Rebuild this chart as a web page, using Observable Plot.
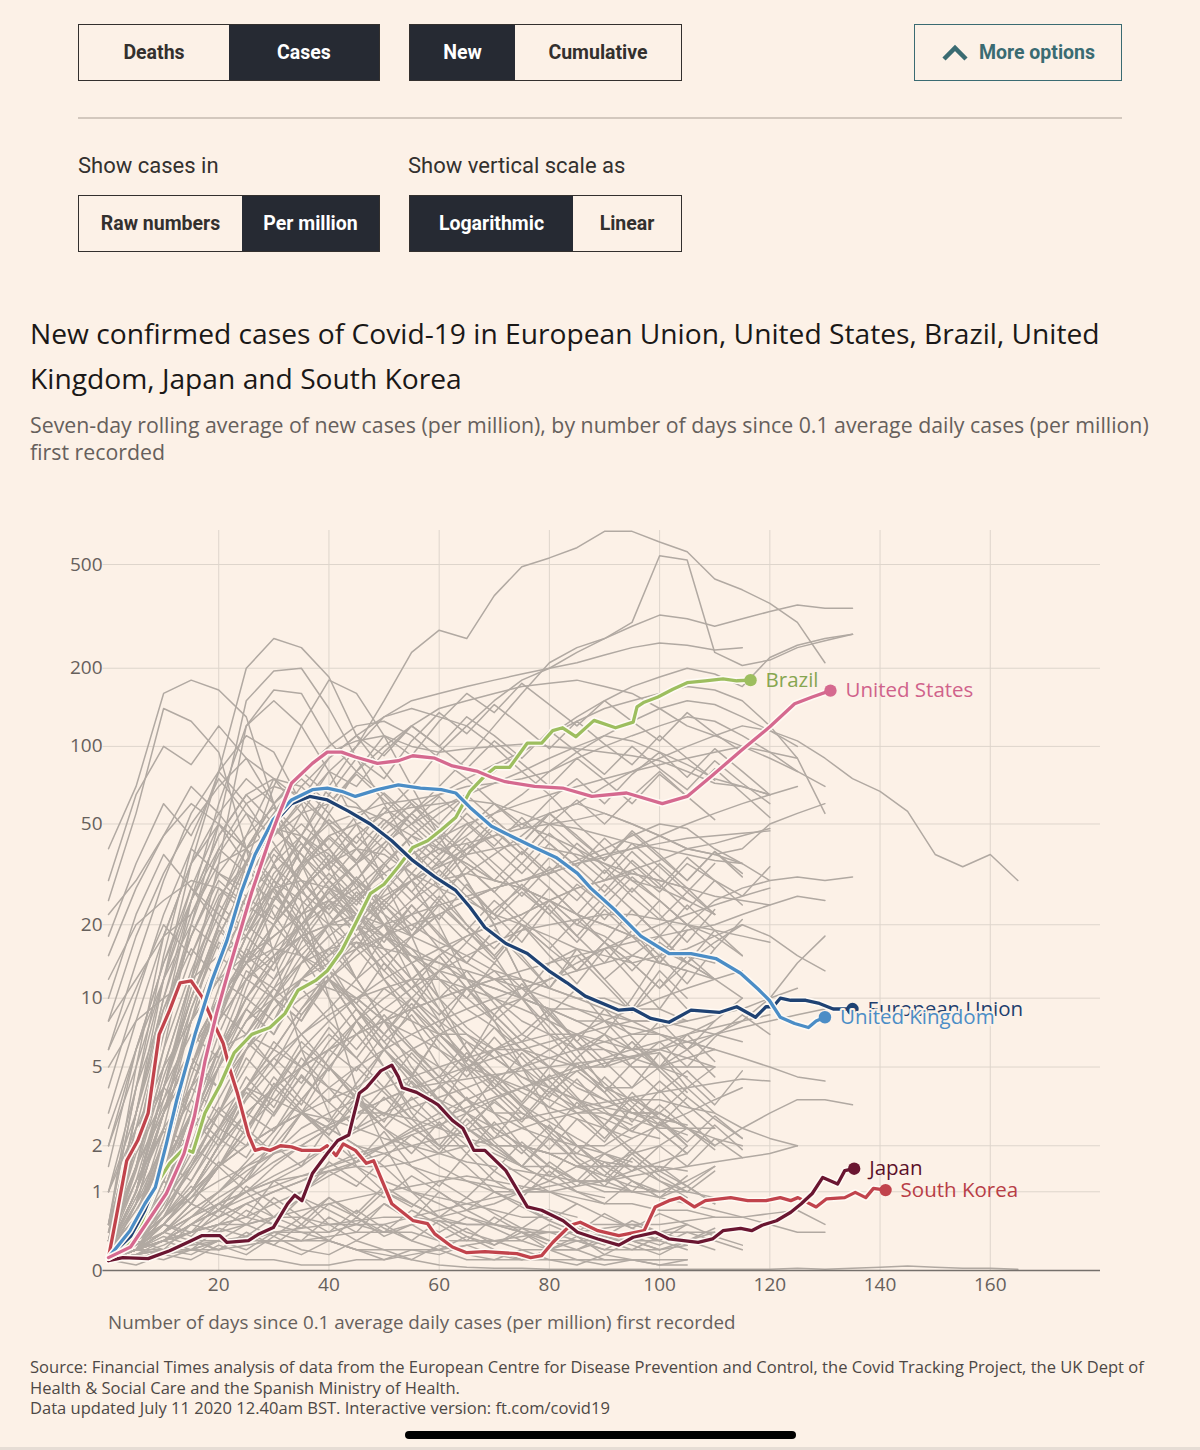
<!DOCTYPE html>
<html>
<head>
<meta charset="utf-8">
<script src="https://cdn.jsdelivr.net/npm/d3@7"></script>
<script src="https://cdn.jsdelivr.net/npm/@observablehq/plot@0.6"></script>
<style>
  html, body { margin: 0; padding: 0; }
  body { width: 1200px; height: 1450px; background: #fcf1e7; position: relative; overflow: hidden;
         font-family: "Open Sans", Roboto, sans-serif; color: #33302e; }
  .grp { position: absolute; box-sizing: border-box; border: 1.5px solid #33302e; display: flex; height: 57px; }
  .grp span { display: flex; align-items: center; justify-content: center; font-family: Roboto, sans-serif; font-weight: 700; font-size: 19.5px; color: #33302e; }
  .grp span.on { background: #262a33; color: #fff; }
  .more { position: absolute; left: 914px; top: 24px; width: 208px; height: 57px; box-sizing: border-box;
          border: 1.5px solid #3a6b72; display: flex; align-items: center; justify-content: center; gap: 10px;
          color: #3a6b72; font-family: Roboto, sans-serif; font-weight: 700; font-size: 19.5px; }
  .sep { position: absolute; left: 78px; top: 117px; width: 1044px; height: 1.5px; background: #d3c8be; }
  .lab { position: absolute; font-family: Roboto, sans-serif; font-size: 22px; color: #33302e; }
  .title { position: absolute; left: 30px; top: 311px; width: 1150px; font-size: 28.2px; line-height: 45px; color: #1a1817; white-space: nowrap; }
  .sub { position: absolute; left: 30px; top: 411px; width: 1160px; font-size: 21.3px; line-height: 27px; color: #66605c; white-space: nowrap; }
  #chart { position: absolute; left: 0; top: 490px; }
  .xlab { position: absolute; left: 108px; top: 1309px; font-size: 18.8px; color: #66605c; }
  .src { position: absolute; left: 30px; top: 1357px; width: 1160px; font-size: 16.55px; line-height: 20.5px; color: #4d4845; white-space: nowrap; }
  .bar { position: absolute; left: 405px; top: 1431px; width: 391px; height: 8px; border-radius: 4px; background: #000; }
  .edge { position: absolute; left: 0; top: 1447px; width: 1200px; height: 3px; background: #e6ddd5; }
</style>
</head>
<body>
<div class="grp" style="left:78px;top:24px;width:302px;"><span style="width:150px">Deaths</span><span class="on" style="flex:1">Cases</span></div>
<div class="grp" style="left:409px;top:24px;width:273px;"><span class="on" style="width:105px">New</span><span style="flex:1">Cumulative</span></div>
<div class="more"><svg width="28" height="18" viewBox="0 0 28 18"><polyline points="3,15 14,4 25,15" fill="none" stroke="#3a6b72" stroke-width="4.5"/></svg><span>More options</span></div>
<div class="sep"></div>
<div class="lab" style="left:78px;top:153px;">Show cases in</div>
<div class="lab" style="left:408px;top:153px;">Show vertical scale as</div>
<div class="grp" style="left:78px;top:195px;width:302px;"><span style="width:163px">Raw numbers</span><span class="on" style="flex:1">Per million</span></div>
<div class="grp" style="left:409px;top:195px;width:273px;"><span class="on" style="width:163px">Logarithmic</span><span style="flex:1">Linear</span></div>
<div class="title">New confirmed cases of Covid-19 in European Union, United States, Brazil, United<br>Kingdom, Japan and South Korea</div>
<div class="sub">Seven-day rolling average of new cases (per million), by number of days since 0.1 average daily cases (per million)<br>first recorded</div>
<div id="chart"></div>
<div class="xlab">Number of days since 0.1 average daily cases (per million) first recorded</div>
<div class="src">Source: Financial Times analysis of data from the European Centre for Disease Prevention and Control, the Covid Tracking Project, the UK Dept of<br>Health &amp; Social Care and the Spanish Ministry of Health.<br>Data updated July 11 2020 12.40am BST. Interactive version: ft.com/covid19</div>
<div class="bar"></div>
<div class="edge"></div>
<script>
const FONT = '"Open Sans", Roboto, sans-serif';

// ---- axis ticks ----
const xTicks = [20, 40, 60, 80, 100, 120, 140, 160];
const yTicks = [0, 1, 2, 5, 10, 20, 50, 100, 200, 500];

// ---- highlighted series: [day, cases per million] ----
const usData = [[0,0.12],[4,0.23],[7.2,0.55],[10.5,0.97],[13.7,1.8],[15.6,2.9],[17.5,5.3],[19.6,8.6],[22,13.5],[26,27],[29.3,44],[31,55],[33.2,72],[37,86],[39.7,95],[42.3,95],[44.8,91],[48.8,86],[52.6,88],[55.2,92],[59.2,90],[62.4,84],[67,80],[69.5,76],[72,73],[77.3,70],[82.4,69],[87.7,64],[94,66],[100.5,60],[105,64],[109.5,77],[114.7,96],[120,119],[124.5,146],[127.7,155],[131,164]];
const ukData = [[0,0.12],[3.9,0.42],[6.6,0.8],[8.5,1.08],[10.5,2.05],[12.4,3.5],[15.7,7],[18.8,11.9],[21.5,17.3],[24.1,27],[26.6,38],[29.9,52],[33.2,62],[37,68],[39.7,69],[42.3,67],[44.8,64],[48.8,68],[52.6,71],[56.6,69],[60.4,68],[63,66],[65.6,58],[69.5,49],[72,46],[77.3,40.5],[81.2,37],[85.1,32],[87.5,28],[92,22.8],[96.6,18],[101.7,15.3],[105.7,15.3],[110.2,14.6],[114.7,12.7],[117.9,10.9],[119.9,9.8],[121.9,8.3],[124.5,7.8],[127,7.5],[128.4,8.0],[130,8.3]];
const euData = [[0,0.12],[4,0.35],[6.6,0.7],[9.1,1.28],[12.4,3.2],[15,6.2],[18.3,11.3],[20.8,16.3],[24.1,26.6],[26.6,37],[29.9,50],[33.2,60],[36.5,64],[39.7,62],[43.6,56],[47.5,50],[51.4,43],[55.2,36],[59.2,31],[63,27.4],[65.6,23.5],[68.3,19.5],[72.1,16.8],[76,15.3],[79.9,13],[83.2,11.6],[86.5,10.2],[92.6,8.9],[95.2,9.0],[98.4,8.2],[101.7,7.9],[105.7,8.9],[110.8,8.7],[114,9.2],[117.4,8.3],[119.3,9.2],[120.6,9.2],[121.9,10],[123.8,9.8],[126.5,9.8],[129,9.5],[131.5,9.0],[135,9.0]];
const brazilData = [[0,0.12],[2.6,0.19],[5.9,0.51],[9.1,1.2],[11.1,1.57],[13.7,1.93],[15.3,1.83],[17.5,3.0],[20.2,4.1],[22.8,5.8],[26,7.0],[29.3,7.5],[32,8.6],[34.4,10.8],[37.7,11.9],[39.7,13],[42.3,15.7],[44.8,20.2],[47.5,26.6],[50,29],[52.6,34],[55.2,40.5],[57.9,43],[60.4,47.5],[63,53],[65.6,67],[68.3,77],[70.2,83],[72.8,83],[76,103],[78.6,103],[80.6,115],[82.4,118],[84.8,109],[88.1,126],[92,118],[95.2,124],[95.9,142],[97.2,148],[99.7,155],[102.4,166],[105,176],[108.3,179],[111.5,182],[114,179],[116.5,180]];
const japanData = [[0,0.09],[2.6,0.12],[7.2,0.11],[11.1,0.19],[15,0.30],[17,0.36],[20.2,0.36],[21.5,0.28],[25.4,0.30],[27.3,0.38],[29.9,0.46],[32.5,0.8],[33.8,0.94],[35.1,0.85],[37,1.35],[39.7,1.8],[41.6,2.14],[43.6,2.3],[45.5,3.76],[46.8,4.0],[49.4,4.8],[51.4,5.1],[52.6,4.5],[53.3,4.0],[55.9,3.8],[58.5,3.47],[59.8,3.3],[62.4,2.75],[64.3,2.5],[66.3,1.88],[68.3,1.88],[72.1,1.41],[76,0.75],[78.6,0.70],[82.5,0.55],[85.1,0.40],[88.8,0.32],[92.6,0.25],[95.2,0.34],[99.2,0.40],[101.7,0.32],[107,0.28],[109.6,0.32],[111.5,0.42],[114.7,0.45],[116.7,0.42],[118.6,0.49],[121.2,0.55],[123.8,0.67],[125.7,0.8],[127.7,0.97],[129.6,1.27],[132.3,1.14],[133.6,1.41],[135.3,1.45]];
const koreaData = [[0,0.12],[1.4,0.6],[3.3,1.63],[5.3,2.14],[7.2,3.0],[8.5,5.3],[9.2,7.0],[11.1,8.9],[13,11.6],[15,11.8],[17,10.1],[18.9,8.0],[20.8,6.4],[22.1,4.8],[23.4,3.76],[25.4,2.3],[26.6,1.88],[27.9,1.93],[29.3,1.88],[31.2,2.0],[33.2,1.97],[35.1,1.88],[38.4,1.88],[39.7,2.0],[41.3,1.75],[42.6,2.05],[44.8,1.88],[46.8,1.57],[48.1,1.63],[51.4,0.8],[55.3,0.55],[57.9,0.51],[59.2,0.38],[62.4,0.23],[65,0.17],[68.3,0.18],[74.1,0.16],[76.6,0.12],[78.6,0.14],[80.6,0.28],[83.8,0.49],[85.6,0.53],[88.8,0.42],[92.6,0.36],[97.2,0.42],[99.2,0.75],[101.7,0.85],[103.7,0.90],[106.3,0.75],[108.3,0.85],[112.9,0.90],[116,0.85],[119.3,0.85],[121.9,0.90],[123.8,0.85],[125.1,0.90],[128.4,0.75],[130.3,0.88],[133.6,0.90],[135.5,0.99],[137.4,0.9],[138.8,1.06],[141,1.03]];

const seriesNames = ["South Korea", "Japan", "Brazil", "European Union", "United Kingdom", "United States"];
const seriesColors = ["#c1434c", "#6a1631", "#9dbe5f", "#1f4273", "#4b8dc6", "#d5698f"];
const seriesLabelColors = ["#b83d46", "#5b1029", "#86a650", "#1f3f6e", "#4b8dc6", "#d0628b"];

// ---- other countries (grey), values every greyStep days from day 0 ----
const greyStep = 5;
const greySeries = [
 [0.2,1,3,6,10,18,30,45,70,100,150,230,280,260,380,490,530,580,670,670,610,560,440,400,355,300,210],
 [0.1,0.8,3,8,12,15,18,22,25,30,40,55,70,90,120,160,210,240,260,300,540,520,230,205,215,240,255,270],
 [0.1,0.5,2,5,9,14,20,28,35,45,55,70,95,120,150,180,200,230,260,290,320,310,290,310,330,350,340,340],
 [0.1,0.3,0.8,2,4,6,8,10,12,15,18,22,28,32,38,45,55,60,70,80,90,100,110,120,115,105,90,75,67,56,38,34,38,30],
 [0.1,0.4,1.5,4,8,12,16,20,24,28,35,45,55,65,80,95,110,130,150,170,185,200,190,170,220,245,260,270],
 [0.2,1,4,10,18,30,45,60,80,100,130,150,160,170,180,190,200,210,225,240,250,245,235,240],
 [40,70,160,180,165,130,60,25,10,4,2,1,0.6,0.4,0.3,0.3,0.2,0.2,0.1,0.1,0.1,0.1],
 [25,55,140,125,95,40,15,6,3,1.5,1,0.8,0.6,0.5,0.5,0.4,0.4,0.3,0.3,0.3,0.2],
 [0.3,3,12,35,80,200,260,240,185,110,80,60,45,30,20,12,8,6,7,10,15,20,25,28,30],
 [0.2,1.5,6,20,50,150,195,200,140,90,60,40,28,20,15,10,7,5,4,4,5,6,8,10],
 [0.2,1,4,12,35,120,165,160,105,80,65,50,40,35,30,28,25,20,18,15,14,13,12],
 [0.1,0.5,2,6,15,35,70,120,180,160,110,70,45,30,20,12,8,6,4,3,3,2.5,2],
 [0.1,0.6,2.5,8,20,40,60,80,95,105,110,100,95,98,100,102,100,98,95,92,88,80,72,70,65],
 [0.1,0.6,2,5,10,18,28,40,50,55,60,62,65,70,72,75,80,90,100,110,120,130,125,110,95,80],
 [0.1,0.4,1.5,5,10,15,25,40,60,80,100,120,140,150,160,170,175,180,170,160,140,120,110,100,90,80,70],
 [0.1,0.3,0.8,2,4,6,9,12,14,16,18,20,22,25,28,30,33,36,40,45,50,48,40,35,30,31,30,31],
 [0.2,1,3,6,10,14,18,22,25,22,18,15,13,12,11,10,9,8,8,7,7,6,7,8,10,14,18],
 [0.1,0.3,1,2.5,5,8,12,16,20,25,30,35,40,42,45,48,50,52,55,50,45,40,38,40,50,55,60],
 [0.1,0.5,2,5,9,14,20,28,35,40,38,32,28,25,22,20,18,16,15,14,15,16,18,20,18,15,13],
 [0.1,0.2,0.4,0.6,0.8,1,1.2,1.5,2,2.5,3,3.5,4,5,6,7,6,5,4,3.5,3,2.5,2,2.5,3,3.5,3.5,3.3],
 [0.1,0.2,0.3,0.4,0.5,0.6,0.5,0.4,0.3,0.2,0.15,0.1,0.05,0.03,0.02,0.02,0.01,0.01,0.01,0.01,0.01,0.01,0.01,0.01,0.01,0.02,0.01,0.02,0.03,0.04,0.03,0.02,0.02,0.01],
 [0.1,0.3,1,3,6,10,15,20,28,35,45,55,65,75,85,95,110,125,140,150,160,170,165,150,120,90,55],
 [0.1,0.2,0.5,1,2,4,6,9,13,18,25,30,38,45,55,65,80,95,110,125,140,150,145,130,115,100],
 [0.2,1,4,10,20,35,50,70,90,110,130,140,130,120,100,80,65,50,40,30,25,20,18,15],
 [0.1,0.5,2,6,15,30,55,80,100,120,125,110,90,75,60,50,45,40,35,30,28,25,22],
 [0.1,0.3,1,2.5,5,9,14,20,27,35,42,50,58,65,72,80,90,100,110,105,95,85,75,70,65],
 [0.1,0.2,0.6,1.5,3,6,10,15,20,26,32,38,44,50,55,60,65,70,75,80,85,90,95,100,95,90],
 [22,30,45,60,50,35,22,15,10,7,5,4,3,2.5,2,2,1.8,1.5,1.5],
 [12,20,25,30,28,24,20,15,12,10,8,6,5,4,3,3,2.5,2],
 [8,12,18,22,35,40,30,20,12,8,5,3,2,1.5,1,1,1],
 [5,8,10,12,15,18,25,35,40,30,20,12,8,5,3,2,1.5,1.2,1,1],
 [0.5,4,15,40,80,110,95,60,35,20,12,8,5,3.5,2.5,2,1.8,1.5,1.5,1.8,2,2.5],
 [0.3,2,8,25,60,120,150,120,80,50,30,18,10,6,4,3,2.5,2,2,2.5,3,4,5],
 [0.1,0.5,2,6,15,30,45,55,60,58,52,45,40,35,30,28,25,22,20,18,16,15,14],
 [0.1,0.3,1,3,8,15,25,35,45,50,55,58,60,62,60,55,50,48,45,42,40,38,36,35],
 [0.2,1,4,10,20,35,50,65,70,60,45,30,20,12,8,5,3,2,1.5,1.2,1,1.2,1.5],
 [0.1,0.2,0.6,1.5,3,5,8,12,16,20,25,30,35,40,45,50,55,60,55,50,45,40,38,35],
 [0.1,0.4,1.5,4,8,12,15,18,20,22,20,18,16,14,12,10,9,8,7,6,5,5,5],
 [0.1,0.2,0.5,1,2,3,4,5,6,8,10,12,15,18,20,22,25,28,30,32,30,28,26,25,24],
 [0.3,2,8,20,40,60,70,65,50,35,22,14,9,6,4,3,2.5,2,1.5,1.5,1.2,1],
 [0.1,0.3,1,2.5,5,8,10,12,11,10,8,7,6,5,4.5,4,3.5,3,3,2.8,2.5,2.5,2.2,2],
 [0.1,0.2,0.4,0.8,1.5,2.5,4,6,8,10,12,14,16,18,20,22,25,28,30,33,36,40,42,45,48],
 [0.2,0.8,3,8,15,22,28,30,28,25,20,16,12,10,8,6,5,4,3.5,3,3,2.5,2.5],
 [0.1,0.3,0.8,2,4,7,10,14,18,22,26,30,34,38,40,42,40,38,35,32,30,28],
 [0.1,0.2,0.3,0.5,0.8,1.2,1.8,2.5,3,3.5,4,4.5,5,5.5,6,6.5,7,7,6.5,6,6,5.5,5],
 [0.2,1,3,6,10,14,16,15,13,11,9,8,7,7,6,6,5.5,5,5,5.5,6,7,8],
 [0.1,0.3,0.6,1,1.5,2,2.5,3,3.5,4,5,6,7,8,9,10,12,14,16,18,20,22,24,26,28],
 [0.1,0.2,0.4,0.6,0.8,1,1.2,1.3,1.4,1.5,1.5,1.6,1.8,2,2.2,2.5,2.8,3,3.2,3.5,3.5,3.2,3],
 [0.3,1.5,5,12,25,40,48,45,38,30,25,20,17,15,13,12,11,10,10,9,9,8],
 [0.1,0.2,0.5,1,2,3.5,5,7,9,12,15,18,22,25,28,30,32,35,38,40,45,50,55,60,65,70],
 [0.1,0.3,0.6,1,1.5,2,2.5,3,2.5,2,1.5,1,0.8,0.6,0.5,0.4,0.3,0.3,0.2,0.2,0.2,0.3,0.4],
 [0.1,0.15,0.2,0.3,0.4,0.5,0.6,0.7,0.8,0.9,1,1.1,1.2,1.3,1.2,1.1,1,0.9,0.8,0.8,0.7,0.7,0.6],
 [0.1,0.2,0.3,0.5,0.7,1,1.5,2,2.5,3,3,2.8,2.5,2.2,2,2,1.8,1.8,1.6,1.5,1.5,1.4],
 [0.2,0.8,2,4,6,7,6,5,4,3.5,3,2.5,2,2,1.8,1.5,1.5,1.2,1.2,1,1,1,0.9],
 [0.1,0.2,0.4,0.7,1,1.5,2,3,4,5,6,7,8,9,10,11,12,13,14,15,14,13],
 [0.1,0.15,0.25,0.4,0.6,0.8,1,1.2,1.5,1.8,2,2.5,3,3.5,4,5,6,7,8,9,10,11,12,13],
 [0.1,0.4,1.2,3,6,10,14,18,20,20,18,16,14,12,11,10,9,9,8.5,8,8,8],
 [0.1,0.2,0.3,0.4,0.5,0.5,0.6,0.6,0.5,0.5,0.4,0.4,0.3,0.3,0.3,0.2,0.2,0.2,0.3,0.3,0.4,0.5],
 [0.1,0.3,0.8,1.8,3.5,6,9,12,15,18,20,22,24,26,28,30,32,35,37,40,42,44,45,46,47],
 [0.4,3,10,25,45,65,75,70,55,40,30,22,16,12,10,8,7,6,6,5,5,5.5,6],
 [0.1,0.2,0.5,1,2,4,6,9,12,16,20,25,30,32,30,28,25,22,20,18,16,14,12,10],
 [0.1,0.2,0.3,0.5,0.7,0.9,1.1,1.3,1.5,1.7,2,2.3,2.6,3,3.5,4,4.5,5,5.5,6,6.5,7,7.5,8,8.5],
 [0.1,0.15,0.2,0.25,0.3,0.35,0.4,0.45,0.5,0.55,0.6,0.6,0.55,0.5,0.5,0.45,0.4,0.4,0.35,0.3,0.3],
 [0.2,0.6,1.5,3,5,8,11,14,16,17,16,15,14,13,12,11,10,9,8,7.5,7,6.5,6],
 [0.1,0.3,0.7,1.5,2.5,4,5.5,7,8.5,10,11,12,12,11,10,9,8,7,6,5.5,5,4.5],
 [0.1,0.2,0.3,0.6,1,1.6,2.4,3.5,5,7,9,11,13,15,17,19,20,21,22,22,21,20,19,18,17],
 [0.1,0.2,0.3,0.4,0.5,0.6,0.8,1,1.3,1.6,2,2.4,2.8,3.2,3.6,4,4.4,4.8,5.2,5.6,6,6.5,7,7.5,8,8.5,9],
 [0.1,0.2,0.3,0.4,0.6,0.8,1,1.2,1.4,1.6,1.8,2,2.2,2.4,2.6,2.8,3,3.2,3.4,3.6,3.8,4,4.2,4.4,4.3],
 [0.1,0.3,0.6,0.9,1.2,1.5,1.8,2,1.8,1.5,1.2,1,0.9,0.8,0.7,0.6,0.6,0.5,0.5,0.5,0.4,0.4,0.4],
 [0.1,0.1,0.15,0.2,0.2,0.25,0.3,0.3,0.35,0.4,0.4,0.5,0.6,0.7,0.8,1,1.2,1.5,1.8,2.2,2.6,3,3.5,4],
 [0.2,0.5,1,2,3,4,3.5,3,2.5,2,1.8,1.5,1.3,1.2,1.1,1,1,1.1,1.2,1.4,1.6,1.8],
 [0.1,0.2,0.2,0.3,0.3,0.3,0.4,0.4,0.4,0.5,0.5,0.6,0.7,0.8,0.9,1,1.1,1.2,1.2,1.3,1.4,1.5,1.6,1.7,1.8,2],
 [0.1,0.15,0.2,0.2,0.15,0.1,0.1,0.05,0.05,0.1,0.1,0.15,0.2,0.25,0.3,0.35,0.4,0.4,0.45,0.5,0.5,0.55,0.6,0.6,0.65,0.7,0.5],
 [0.1,0.2,0.4,0.7,1,1.4,1.8,2.2,2.6,3,3.5,4,4.5,5,5.5,6,6.5,7,7.5,8,8,7.5,7,6.5],
 [0.1,0.3,0.6,1,1.5,2,2.5,3,2.8,2.5,2.2,2,1.8,1.6,1.5,1.4,1.3,1.2,1.1,1,0.9,0.8,0.7,0.6,0.5,0.4,0.4],
 [0.1,0.1,0.2,0.2,0.3,0.3,0.3,0.3,0.3,0.2,0.2,0.2,0.2,0.1,0.1,0.1,0.1,0.1,0.1,0.1,0.1],
 [0.1,0.2,0.4,0.8,1.5,2.5,3.5,5,6,7,8,9,10,11,12,12,11,10,9,8,7,6.5,6,5.5,5,4.5,4.3],
 [0.1,0.3,0.6,1,2,3,4,5,6,7,8,9,10,11,12,13,14,15,16,17,18,19,20,22,24,26,25],
 [0.1,0.2,0.3,0.5,0.7,1,1.3,1.6,2,2.4,2.8,3.2,3.6,4,4.5,5,5.5,6,6.5,7,7.5,8,8.5,9,10,11],
 [0.1,0.2,0.4,0.6,0.9,1.2,1.6,2,2.5,3,3.5,4,4.2,4.4,4.6,4.8,5,5.2,5.4,5.6,5.8,4,3,2.5,2.2,2],
 [0.1,0.5,1.2,0.8,1.5,2.5,1.8,3,2.2,1.6,2.4,1.5,1.1,1.8,1.2,0.9,1.4,1,0.8,1.2,0.9,1.1,0.8],
 [0.1,0.2,0.6,1.1,0.7,1.3,2,1.5,2.6,3.8,2.9,4.5,3.2,2.4,3.5,2.6,1.9,2.8,2.1,3.2,2.4,1.8],
 [0.2,1,2.5,4,3,5.5,4,6.5,5,3.5,4.8,3.2,2.5,3.6,2.4,1.8,2.6,1.7,1.3,1.9,1.4,1.1,1.5],
 [0.1,0.3,0.5,0.9,1.6,1.2,2.2,3.5,2.7,4.2,6,4.6,7,5.2,4,5.8,4.3,3.2,4.5,3.4,2.6,3.6,2.8,2.2],
 [0.3,1.8,3.5,6,9,7,11,8.5,12,9,6.5,8.5,6,4.5,6,4.2,3.2,4.4,3.1,2.4,3.3,2.5,1.9],
 [0.1,0.15,0.3,0.2,0.45,0.35,0.6,0.45,0.8,0.6,1,0.75,1.2,0.9,1.4,1.05,1.6,1.2,1.8,1.4,2,1.5,2.2,1.7],
 [0.1,0.4,0.9,1.5,2.5,4,3,5,7,5.5,8,10,7.5,11,13,10,14,16,12,15,18,14,17,20],
 [0.5,2.5,5,8,12,10,15,18,14,20,16,12,15,11,8,10,7.5,5.5,7,5,3.8,4.8,3.6],
 [0.1,0.2,0.35,0.25,0.5,0.8,0.6,1,1.4,1.1,1.7,2.3,1.8,2.6,3.4,2.7,3.8,4.8,3.8,5.2,6.5,5,6.8,8.5,7],
 [0.2,0.8,1.6,2.8,2,3.6,5.5,4.2,6.5,9,7,10,13,10,14,11,8.5,11,8,6,8,6,4.5],
 [0.1,0.3,0.2,0.5,0.4,0.7,0.5,0.9,0.7,0.5,0.8,0.6,0.4,0.6,0.45,0.3,0.5,0.35,0.25,0.4,0.3,0.2],
 [1,2.5,4,3,6,9,7,12,16,12,18,14,10,13,9.5,7,9,6.5,5,6.5,4.8,3.6],
 [0.1,0.2,0.5,1,1.8,3,2.4,4,6,4.8,7,5.5,4.2,5.8,4.4,3.3,4.6,3.5,2.6,3.6,2.8,2.1,2.9,2.2],
 [0.2,0.6,1.3,2.4,4,6.5,10,8,13,17,13,18,22,17,23,28,22,29,24,19,25,20,16,21],
 [0.1,0.25,0.5,0.4,0.8,0.6,1.2,0.9,1.6,1.2,0.9,1.3,1,0.7,1,0.75,0.55,0.8,0.6,0.45,0.65,0.5],
 [0.4,1.5,3,5,4,7,10,8,12,9.5,7,9.5,7,5.5,7.5,5.5,4,5.5,4.2,3.2,4.3,3.3,2.5],
 [0.1,0.3,0.7,1.4,2.5,2,3.8,6,4.8,8,11,9,13,17,14,19,25,20,26,33,27,35,30,26,34],
 [0.3,1.2,2.5,2,4,6.5,5,8.5,12,9.5,14,11,8.5,11,8.5,6.5,8.5,6.5,5,6.5,5,3.8],
 [0.2,2,7,15,28,22,35,45,36,50,40,32,42,34,27,35,28,22,29,23,18,24,19],
 [0.1,0.8,3,9,18,30,25,40,52,42,58,48,38,50,40,32,42,34,27,36,29,23,30,24],
 [0.3,3,10,22,38,55,45,62,50,40,52,42,34,44,35,28,37,30,24,31,25,20],
 [0.1,0.5,1.8,5,11,20,16,28,38,30,42,55,44,58,47,38,50,40,32,42,34,27,35],
 [0.2,1.5,5,12,22,18,30,25,20,27,22,18,24,19,15,20,16,13,17,14,11,14,12],
 [0.5,5,18,35,55,75,60,80,65,52,66,53,42,55,44,35,46,37,30,39,31,25],
 [0.1,0.6,2.2,6,13,24,20,33,45,36,50,62,50,65,52,42,55,44,36,46,37,30,39,32],
 [1.5,6,14,25,40,32,48,38,30,40,32,25,33,26,21,27,22,17,23,18,14,19],
 [0.1,0.4,1.4,4,9,16,13,22,30,24,34,45,36,48,60,48,62,75,60,78,95,76,98,80,65],
 [0.2,1,3.5,8,15,12,20,27,22,30,24,19,26,20,16,21,17,13,17,14,11,15,12],
 [0.3,2.5,8,18,32,26,40,50,40,54,44,35,46,37,30,39,31,25,33,26,21,27,22],
 [0.1,0.3,1,3,7,13,11,18,25,20,28,37,30,40,52,42,55,45,36,47,38,30,39,31],
 [2,6,12,20,16,26,34,27,36,29,23,30,24,19,25,20,16,21,17,13,17,14],
 [0.1,0.5,2,6,14,26,21,34,44,35,48,60,48,38,50,40,32,42,34,27,35,28,22],
 [0.5,4,12,28,50,40,60,75,60,78,62,50,64,51,41,53,42,34,44,35,28,37,30],
 [0.1,0.2,0.8,2.5,6,12,10,17,24,19,27,36,29,38,48,38,50,62,50,64,80,64,82,66,53],
 [0.1,0.4,1.5,4.5,10,20,35,55,80,70,95,120,100,130,110,90,115,95,78,100,82,68,88,72,60],
 [0.1,0.3,1.2,3.5,8,16,28,45,65,90,75,105,135,112,145,120,98,125,102,85,110,90,74],
 [0.2,1,4,11,24,45,75,62,90,110,92,120,100,82,105,86,70,90,74,60,78,64,52],
 [0.1,0.2,0.7,2,5,11,20,35,55,80,110,92,125,160,135,175,145,120,150,125,105,135,112,95,120],
 [15,28,45,70,55,40,28,18,12,8,6,4.5,3.5,3,2.5,2,1.8,1.5,1.3,1.1,1],
 [6,14,30,55,80,60,42,28,18,12,8,6,4.5,3.5,3,2.5,2.2,2,1.8,1.6],
 [3,8,18,35,50,40,55,42,30,22,16,12,9,7,5.5,4.5,3.8,3.2,2.8,2.4,2.2],
 [10,22,38,28,20,14,10,7,5,3.5,2.5,2,1.5,1.2,1,0.8,0.7,0.6],
 [2,5,12,25,45,65,50,35,25,18,13,10,8,6.5,5.5,4.5,4,3.5,3.2,3,2.8,2.6],
 [30,65,100,85,120,90,60,35,20,12,8,5,3.5,2.5,2,1.5,1.2,1,0.9],
 [4,10,22,40,32,45,58,45,34,26,20,15,12,9,7.5,6,5,4.2,3.5,3,2.6,2.3],
 [8,18,32,50,70,90,75,55,40,28,20,14,10,7.5,6,5,4,3.5,3,2.6],
 [1,3,8,18,32,28,40,30,22,16,12,9,7,5.5,4.5,3.8,3.2,2.8,2.5,2.2],
 [0.1,0.2,0.15,0.3,0.2,0.4,0.25,0.5,0.3,0.6,0.35,0.5,0.3,0.45,0.25,0.4,0.2,0.35,0.15,0.3,0.2,0.25],
 [0.1,0.05,0.15,0.1,0.25,0.15,0.35,0.2,0.15,0.3,0.2,0.1,0.25,0.15,0.1,0.2,0.1,0.05,0.15,0.1,0.05,0.1],
 [0.1,0.3,0.5,0.35,0.7,0.5,0.9,0.6,0.4,0.7,0.45,0.3,0.55,0.35,0.25,0.45,0.3,0.2,0.35,0.25,0.15,0.3,0.2],
 [0.1,0.2,0.4,0.8,0.6,1.1,0.8,0.5,0.9,0.6,0.4,0.7,0.5,0.3,0.6,0.4,0.25,0.45,0.3,0.2,0.35,0.25],
 [0.1,0.15,0.1,0.2,0.3,0.2,0.4,0.3,0.6,0.4,0.8,0.55,1,0.7,0.5,0.8,0.55,0.4,0.65,0.45,0.3,0.5,0.35,0.25],
 [0.2,0.6,1.2,0.8,1.5,1,0.6,0.9,0.5,0.3,0.5,0.3,0.2,0.35,0.2,0.1,0.2,0.1,0.05,0.1,0.05,0.05],
 [0.1,0.1,0.2,0.15,0.3,0.5,0.35,0.6,0.9,0.65,1.1,0.8,0.6,0.9,0.65,0.45,0.7,0.5,0.35,0.55,0.4,0.3,0.45],
 [0.1,0.25,0.4,0.3,0.2,0.35,0.25,0.15,0.3,0.2,0.1,0.2,0.15,0.25,0.15,0.1,0.2,0.3,0.2,0.35,0.25,0.4,0.3,0.2],
 [0.2,0.9,2,3.5,2.5,4.5,3.2,5.5,4,2.8,4,2.8,2,3,2.1,1.5,2.3,1.6,1.1,1.7,1.2,0.9],
 [0.1,0.4,1,2,1.5,2.8,4.5,3.3,5.5,8,6,9,6.5,4.8,6.8,5,3.6,5.2,3.8,2.7,3.9,2.8,2],
 [0.3,1.5,3.2,5.5,4,7,5,3.5,5,3.6,2.5,3.6,2.6,1.8,2.7,1.9,1.3,2,1.4,1,1.5,1.1,0.8],
 [0.1,0.3,0.8,1.6,3,2.3,4,3,5,3.8,6,4.5,7,5.3,8.5,6.5,5,7,5.3,4,5.8,4.4,3.3,4.8],
 [0.2,0.7,1.6,1.2,2.4,3.8,2.9,4.6,3.4,2.5,3.6,2.6,1.9,2.8,2,1.5,2.2,1.6,1.2,1.8,1.3,1,1.4],
 [0.5,2,4,7,5.5,9,7,11,8,6,8.5,6.2,4.5,6.5,4.7,3.4,5,3.6,2.6,3.8,2.8,2],
 [0.1,0.2,0.5,0.9,1.5,2.3,1.8,3,2.3,3.6,2.7,4.3,3.2,5,3.8,2.8,4,3,2.2,3.2,2.4,1.8,2.6,1.9],
 [0.1,0.5,1.4,3,2.2,4,6.5,5,7.5,5.5,4,5.8,4.2,3,4.4,3.2,2.3,3.4,2.5,1.8,2.7,2],
 [0.3,1.2,2.4,1.8,3.2,2.4,4.2,3.1,2.3,3.4,2.5,1.8,2.7,2,1.4,2.1,1.5,1.1,1.6,1.2,0.9,1.3],
 [0.1,0.3,0.6,1.2,2.2,1.7,3,4.5,3.4,5,3.8,2.8,4.1,3,2.2,3.3,2.4,1.8,2.6,1.9,1.4,2],
 [0.2,1.2,4,9,17,14,24,19,28,22,17,24,18,14,19,15,11,16,12,9,13,10],
 [0.1,0.6,2,5,10,18,14,24,32,25,35,27,21,29,22,17,24,18,14,19,15,11.5,16],
 [0.4,3,9,18,30,24,38,30,23,31,24,18,25,19,14.5,20,15,11.5,16,12,9,13],
 [0.1,0.3,1,2.6,5.5,10,8,14,20,16,24,32,25,34,27,21,28,22,17,23,18,14,19,15],
 [0.3,2,6,13,24,19,32,42,33,45,35,27,36,28,22,29,23,18,24,19,14,19],
 [0.2,1.4,4.5,10,19,15,26,20,15,20,15,11,15,11,8.5,11.5,8.7,6.5,9,6.8,5,7,5.3],
 [0.1,0.4,1.5,4,8.5,15,12,20,27,21,30,40,31,42,33,26,34,27,21,28,22,17,23],
 [1,4,9,16,12,20,28,22,30,23,18,24,18.5,14,19,14.5,11,15,11.5,8.7,12,9],
 [18,35,60,45,75,55,35,22,14,9,6,4.2,3,2.2,1.7,1.3,1,0.8],
 [2.5,6,14,28,22,36,48,38,28,20,14,10,7.5,5.5,4.2,3.3,2.7,2.2,1.8,1.5],
 [6,11,20,15,26,35,27,19,13,9,6.5,4.7,3.4,2.5,1.9,1.5,1.2]
];

// ---- build tables ----
const greyRows = greySeries.flatMap((vals, i) => vals.map((v, j) => ({id: i, day: j * greyStep, v})));
const mainSets = [koreaData, japanData, brazilData, euData, ukData, usData];
const mainRows = mainSets.flatMap((s, i) => s.map(([day, v]) => ({name: seriesNames[i], day, v})));
const ends = mainSets.map((s, i) => ({name: seriesNames[i], day: s[s.length - 1][0], v: s[s.length - 1][1], color: seriesColors[i], lc: seriesLabelColors[i]}));
const colorOf = Object.fromEntries(seriesNames.map((n, i) => [n, seriesColors[i]]));

const yTop = 675;
const marks = [
  Plot.ruleX(xTicks, {y1: 0, y2: yTop, stroke: "#ded5cc", strokeWidth: 1}),
  Plot.ruleY(yTicks.filter(d => d > 0), {x1: -1, x2: 180, stroke: "#ded5cc", strokeWidth: 1}),
  Plot.line(greyRows, {x: "day", y: "v", z: "id", stroke: "#b1a9a2", strokeWidth: 1.5, strokeLinejoin: "round"}),
  Plot.ruleY([0], {x1: -1, x2: 180, stroke: "#75706b", strokeWidth: 1.5})
];
for (const name of seriesNames) {
  const rows = mainRows.filter(r => r.name === name);
  marks.push(Plot.line(rows, {x: "day", y: "v", stroke: "#fffaf4", strokeWidth: 6.5, strokeLinejoin: "round", strokeLinecap: "round"}));
  marks.push(Plot.line(rows, {x: "day", y: "v", stroke: colorOf[name], strokeWidth: 3.3, strokeLinejoin: "round", strokeLinecap: "round"}));
}
marks.push(Plot.dot(ends, {x: "day", y: "v", r: 6.2, fill: d => d.color, stroke: "none"}));
// labels: EU first, UK on top with a halo (as in the original, the two overlap)
const labelOrder = ["European Union", "United Kingdom", "Brazil", "United States", "Japan", "South Korea"];
for (const name of labelOrder) {
  const e = ends.filter(d => d.name === name);
  marks.push(Plot.text(e, {x: "day", y: "v", text: "name", dx: 15, textAnchor: "start", fill: e[0].lc, fontSize: 20.5,
    stroke: name === "United Kingdom" ? "#fcf1e7" : "none", strokeWidth: 4, paintOrder: "stroke"}));
}
marks.push(Plot.axisY({ticks: yTicks, tickSize: 0, tickPadding: 6, tickFormat: d => String(d), fontSize: 19, label: null}));
marks.push(Plot.axisX({ticks: xTicks, tickSize: 0, tickPadding: 7, tickFormat: d => String(d), fontSize: 19, label: null}));

const chart = Plot.plot({
  width: 1200,
  height: 810,
  marginTop: 40,
  marginBottom: 30,
  marginLeft: 108,
  marginRight: 100,
  style: {background: "transparent", fontFamily: FONT, color: "#66605c", overflow: "visible"},
  x: {domain: [0, 180]},
  y: {type: "symlog", constant: 1, domain: [0, yTop]},
  marks
});
document.getElementById("chart").appendChild(chart);
</script>
</body>
</html>
